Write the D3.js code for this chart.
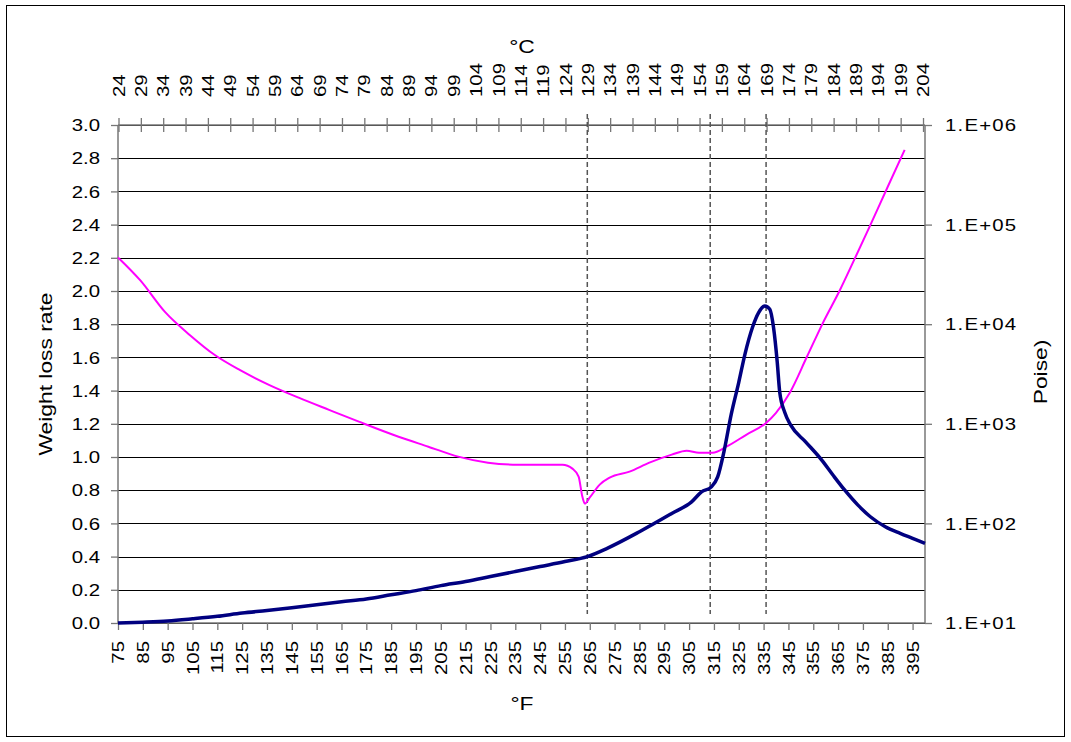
<!DOCTYPE html>
<html>
<head>
<meta charset="utf-8">
<script src="https://cdn.jsdelivr.net/npm/d3@7"></script>
<style>
  html, body { margin: 0; padding: 0; background: #fff; }
  svg { display: block; }
  text { font-family: "Liberation Sans", Arial, sans-serif; fill: #000; }
</style>
</head>
<body>
<svg id="chart" width="1071" height="742"></svg>
<script>
// ---------- data ----------
// Weight loss rate (left axis) vs temperature in °F
const lossF = [75,85,95,105,115,125,135,145,155,165,175,185,195,205,215,225,235,245,255,264,272,285,298,306,310,314,316.5,319,322,325,327.5,330.5,333,335.5,337.5,339,340.5,341.5,343.5,346,352,358.5,363,367.7,373,378,384,390,395,400];
const lossRate = [0,0.005,0.012,0.025,0.04,0.06,0.075,0.092,0.11,0.128,0.145,0.17,0.195,0.225,0.25,0.28,0.31,0.34,0.37,0.40,0.45,0.55,0.66,0.73,0.79,0.82,0.88,1.03,1.26,1.45,1.62,1.78,1.87,1.91,1.89,1.78,1.57,1.39,1.27,1.19,1.09,0.98,0.89,0.80,0.71,0.64,0.58,0.54,0.51,0.48];

// Viscosity (right axis, Poise, log scale) vs temperature in °F
const viscF = [75,84,94,104,114,124,136,148,160,172,188,200,212,224,236,248,254,258,260.5,262,263,265,269,273,281,289,298,304,309,314.5,320,328,336,340,345.5,352.4,358.8,365.7,371,377.7,385,391.8];
const viscPoise = [46800,27500,13200,7760,4900,3470,2450,1820,1380,1050,741,589,468,407,389,389,389,355,295,186,158,182,245,288,331,407,490,537,513,513,589,776,1020,1290,2040,4680,10200,21900,41700,95500,240000,562000];

// marker temperatures (dashed verticals), °F
const markerF = [264, 313.5, 336];

// tick values
const fTicks = d3.range(75, 396, 10);          // 75 ... 395
const cTicks = d3.range(24, 205, 5);           // 24 ... 204
const leftTicks = d3.range(0, 3.0001, 0.2);
const rightTicks = [10, 100, 1000, 10000, 100000, 1000000];

const xTitle = "°F", topTitle = "°C", leftTitle = "Weight loss rate", rightTitle = "Poise)";

// ---------- layout ----------
const svg = d3.select("#chart");
const L = 118, R = 925, T = 125, B = 623;
const SX = 1.2; // horizontal text stretch

const x = d3.scaleLinear().domain([75, 400]).range([L, R]);
const xc = d3.scaleLinear().domain([(75 - 32) / 1.8, (400 - 32) / 1.8]).range([L, R]);
const y = d3.scaleLinear().domain([0, 3]).range([B, T]);
const yr = d3.scaleLog().domain([10, 1e6]).range([B, T]);

// outer frame
svg.append("rect").attr("x", 6.5).attr("y", 5.5).attr("width", 1058).attr("height", 731)
  .attr("fill", "none").attr("stroke", "#000").attr("stroke-width", 1);

// gridlines
svg.append("g").selectAll("line").data(leftTicks).join("line")
  .attr("x1", L).attr("x2", R)
  .attr("y1", d => Math.round(y(d)) + 0.5).attr("y2", d => Math.round(y(d)) + 0.5)
  .attr("stroke", "#000").attr("stroke-width", 1);

// axes lines & ticks
const axisColor = "#777";
function styleAxis(g) {
  g.select(".domain").remove();
  g.selectAll("line").attr("stroke", axisColor).attr("stroke-width", 1.3);
  g.selectAll("text").remove();
}
svg.append("g").attr("transform", `translate(${L},0)`)
  .call(d3.axisLeft(y).tickValues(leftTicks).tickSize(7)).call(styleAxis);
svg.append("g").attr("transform", `translate(${R},0)`)
  .call(d3.axisRight(yr).tickValues(rightTicks).tickSize(7)).call(styleAxis);
svg.append("g").attr("transform", `translate(0,${B})`)
  .call(d3.axisBottom(x).tickValues(fTicks).tickSize(7)).call(styleAxis);
const topAx = svg.append("g").attr("transform", `translate(0,${T})`)
  .call(d3.axisTop(xc).tickValues(cTicks).tickSize(7)).call(styleAxis);
topAx.selectAll(".tick line").attr("y1", 7);

// axis frame lines
const frame = svg.append("g").attr("stroke", axisColor).attr("stroke-width", 1.5);
frame.append("line").attr("x1", L).attr("x2", L).attr("y1", T).attr("y2", B);
frame.append("line").attr("x1", R).attr("x2", R).attr("y1", T).attr("y2", B);
frame.append("line").attr("x1", L).attr("x2", R).attr("y1", B).attr("y2", B);
frame.append("line").attr("x1", L).attr("x2", R).attr("y1", T).attr("y2", T);

// dashed marker lines
svg.append("g").selectAll("line").data(markerF).join("line")
  .attr("x1", d => x(d)).attr("x2", d => x(d)).attr("y1", 114).attr("y2", 614)
  .attr("stroke", "#555").attr("stroke-width", 1.5).attr("stroke-dasharray", "5,3");

// curves
const viscLine = d3.line().x((d, i) => x(viscF[i])).y(d => yr(d)).curve(d3.curveMonotoneX);
svg.append("path").attr("d", viscLine(viscPoise))
  .attr("fill", "none").attr("stroke", "#FF00FF").attr("stroke-width", 2);

const lossLine = d3.line().x((d, i) => x(lossF[i])).y(d => y(d)).curve(d3.curveMonotoneX);
svg.append("path").attr("d", lossLine(lossRate))
  .attr("fill", "none").attr("stroke", "#000080").attr("stroke-width", 3.5)
  .attr("stroke-linejoin", "round");

// ---------- labels ----------
const FS = 17;
// left
svg.append("g").selectAll("text").data(leftTicks).join("text")
  .attr("transform", d => `translate(100,${y(d)}) scale(${SX},1)`)
  .attr("text-anchor", "end").attr("dy", "0.36em").attr("font-size", FS)
  .text(d => d3.format(".1f")(d));
// right
svg.append("g").selectAll("text").data(rightTicks).join("text")
  .attr("transform", d => `translate(945,${yr(d)}) scale(${SX},1)`)
  .attr("text-anchor", "start").attr("dy", "0.36em").attr("font-size", FS)
  .attr("letter-spacing", 1)
  .text(d => "1.E+" + String(Math.round(Math.log10(d))).padStart(2, "0"));
// bottom
svg.append("g").selectAll("text").data(fTicks).join("text")
  .attr("transform", d => `translate(${x(d)},641) rotate(-90) scale(${SX},1)`)
  .attr("text-anchor", "end").attr("dy", "0.36em").attr("font-size", FS)
  .text(d => d);
// top
svg.append("g").selectAll("text").data(cTicks).join("text")
  .attr("transform", d => `translate(${xc(d)},97) rotate(-90) scale(${SX},1)`)
  .attr("text-anchor", "start").attr("dy", "0.36em").attr("font-size", FS)
  .text(d => d);

// titles
const TFS = 19;
svg.append("text").attr("transform", `translate(522,53) scale(${SX},1)`)
  .attr("text-anchor", "middle").attr("font-size", TFS).text(topTitle);
svg.append("text").attr("transform", `translate(522,710) scale(${SX},1)`)
  .attr("text-anchor", "middle").attr("font-size", TFS).text(xTitle);
svg.append("text").attr("transform", `translate(52,374) rotate(-90) scale(${SX},1)`)
  .attr("text-anchor", "middle").attr("font-size", TFS).text(leftTitle);
svg.append("text").attr("transform", `translate(1047,372) rotate(-90) scale(${SX},1)`)
  .attr("text-anchor", "middle").attr("font-size", TFS).text(rightTitle);
</script>
</body>
</html>
